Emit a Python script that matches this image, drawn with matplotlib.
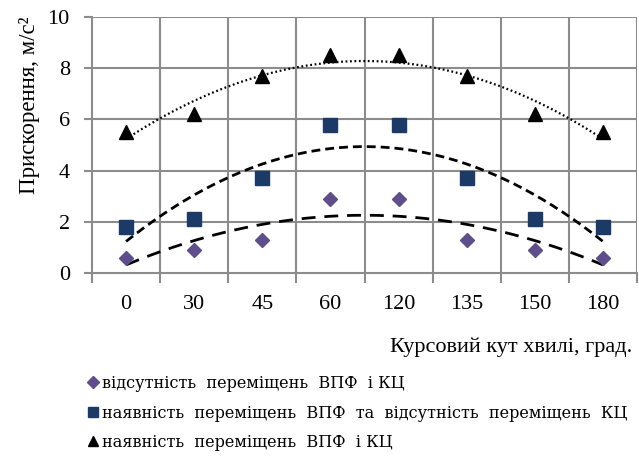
import numpy as np
import matplotlib
matplotlib.use("Agg")
import matplotlib.pyplot as plt
from matplotlib.lines import Line2D

# Heading angle categories and measured accelerations
angles = ["0", "30", "45", "60", "120", "135", "150", "180"]
accel_none = [0.6, 0.9, 1.3, 2.9, 2.9, 1.3, 0.9, 0.6]
accel_vpf = [1.8, 2.1, 3.7, 5.8, 5.8, 3.7, 2.1, 1.8]
accel_both = [5.5, 6.2, 7.7, 8.5, 8.5, 7.7, 6.2, 5.5]

labels = [
    "відсутність  переміщень  ВПФ  і КЦ",
    "наявність  переміщень  ВПФ  та  відсутність  переміщень  КЦ",
    "наявність  переміщень  ВПФ  і КЦ",
]

plt.rcParams["font.family"] = ["Liberation Serif", "DejaVu Serif"]

W, H = 639, 463
fig = plt.figure(figsize=(W / 100, H / 100), dpi=100)
ax = fig.add_axes([92 / W, 1 - 273 / H, (637 - 92) / W, (273 - 17) / H])

x = np.arange(1, len(angles) + 1)
grid_c = "#8c8c8c"

series = [
    (accel_none, "D", "#5e4f8c", 7.5, (0, (5, 3.2)), 2.0),
    (accel_vpf, "s", "#1c3a66", 9.5, (0, (3.2, 1.8)), 2.0),
    (accel_both, "^", "#000000", 10, (0, (0.8, 1.2)), 1.6),
]

for vals, mk, col, ms, ls, lw in series:
    ax.plot(x, vals, linestyle="none", marker=mk, color=col,
            markersize=ms, zorder=4)
    # second-order polynomial trend
    coef = np.polyfit(x, vals, 2)
    xs = np.linspace(1, len(angles), 200)
    ax.plot(xs, np.polyval(coef, xs), color="black", lw=lw,
            linestyle=ls, zorder=3)

ax.set_xlim(0.5, len(angles) + 0.5)
ax.set_ylim(0, 10)
ax.set_yticks(range(0, 11, 2))
ax.set_xticks(x)
ax.set_xticklabels(angles)
ax.set_xticks(np.arange(0.5, len(angles) + 1, 1), minor=True)

ax.grid(False)
for yv in range(2, 11, 2):
    ax.axhline(yv, color=grid_c, lw=1.5, zorder=1)
for xv in np.arange(1.5, len(angles) + 1, 1):
    ax.axvline(xv, color=grid_c, lw=1.5, zorder=1)

for s in ["top", "right"]:
    ax.spines[s].set_visible(False)
for s in ["left", "bottom"]:
    ax.spines[s].set_color(grid_c)
    ax.spines[s].set_linewidth(1.5)

ax.tick_params(axis="y", length=6, width=1.5, color=grid_c,
               labelsize=16, pad=10)
ax.tick_params(axis="x", which="major", length=0, labelsize=16, pad=16)
ax.tick_params(axis="x", which="minor", length=7, width=1.5, color=grid_c)

fig.text(30 / W, 1 - 105 / H, "Прискорення, м/с²", rotation=90,
         ha="center", va="center", fontsize=16.5)
fig.text(632 / W, 1 - 347 / H, "Курсовий кут хвилі, град.",
         ha="right", va="center", fontsize=16)

handles = [
    Line2D([], [], linestyle="none", marker="D", color="#5e4f8c", markersize=6),
    Line2D([], [], linestyle="none", marker="s", color="#1c3a66", markersize=7),
    Line2D([], [], linestyle="none", marker="^", color="#000000", markersize=7),
]
fig.legend(handles, labels, loc="upper left",
           bbox_to_anchor=(88 / W, 1 - 375 / H), frameon=False,
           prop={"family": "DejaVu Serif", "size": 11.6},
           handlelength=0.6, handletextpad=0.25, labelspacing=0.78,
           borderaxespad=0, borderpad=0)

fig.savefig("out.png", dpi=100)
